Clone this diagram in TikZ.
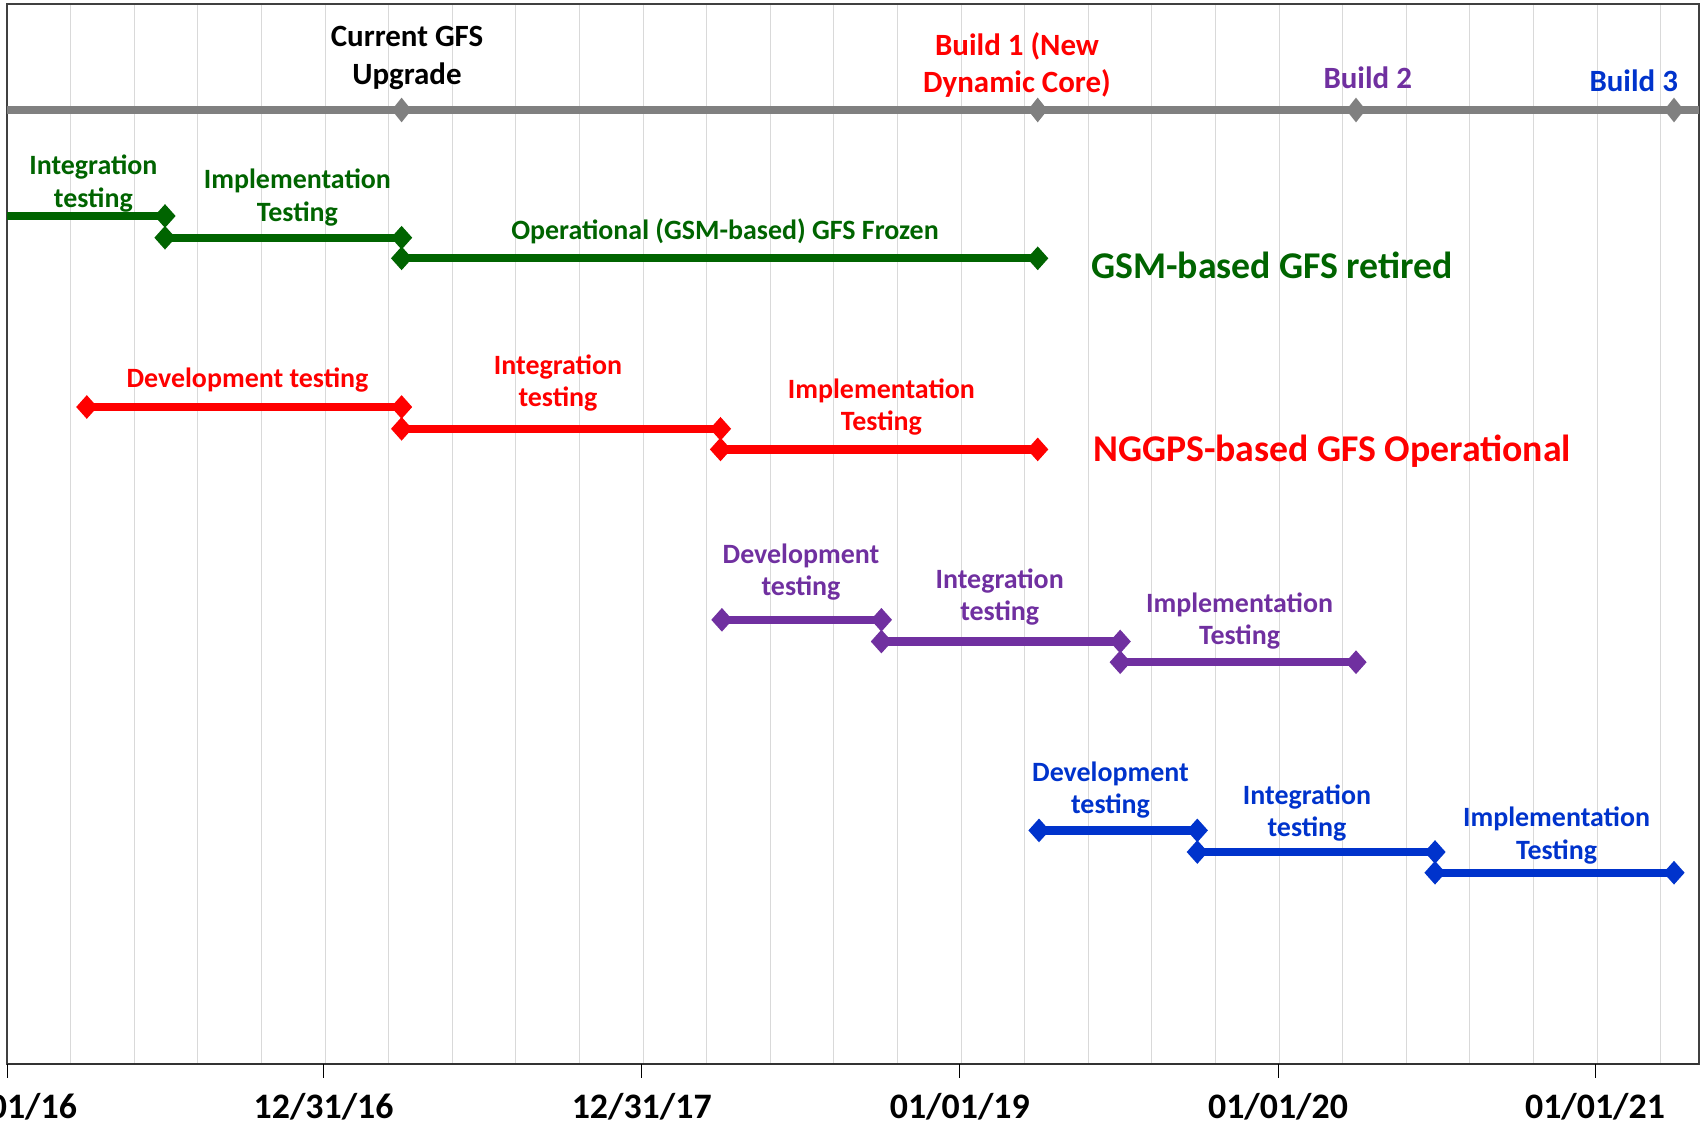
\documentclass[tikz,border=0pt]{standalone}
\usepackage{fontspec}
\setmainfont{Carlito}
\definecolor{opsGreen}{RGB}{0,100,0}
\definecolor{buildRed}{RGB}{255,0,0}
\definecolor{buildPurple}{RGB}{112,48,160}
\definecolor{buildBlue}{RGB}{0,51,204}
\definecolor{axisGray}{RGB}{128,128,128}
\definecolor{gridGray}{RGB}{217,217,217}
\usetikzlibrary{shapes.geometric}

\begin{document}
\begin{tikzpicture}[x=0.2mm,y=-0.2mm,
  bar/.style={line width=1.65mm,draw=#1},
  mstone/.style={diamond,fill=#1,inner sep=0pt,minimum width=4.3mm,minimum height=4.8mm},
  lbl/.style={text=#1,font=\fontsize{15.9}{18.5}\selectfont\bfseries,align=center},
  biglbl/.style={text=#1,font=\fontsize{21.5}{25}\selectfont\bfseries,anchor=west},
  toplbl/.style={text=#1,font=\fontsize{17.6}{21.5}\selectfont\bfseries,align=center},
  datelbl/.style={font=\fontsize{20.4}{24}\selectfont\bfseries,inner sep=0pt}]
\useasboundingbox (0,0) rectangle (1702,1125);

% Grid and frame
\foreach \k in {1,...,26}
  \draw[gridGray,line width=0.2mm] ({7+63.6*\k},4) -- ({7+63.6*\k},1064);
\draw[black!75,line width=0.3mm] (7,4) rectangle (1699,1064);
\draw[black!80,line width=0.5mm] (7,1064) -- (1699,1064);

% Date axis
\draw[thin] (7,1064) -- (7,1078);
\draw[thin] (323.6,1064) -- (323.6,1078);
\draw[thin] (641.7,1064) -- (641.7,1078);
\draw[thin] (959.8,1064) -- (959.8,1078);
\draw[thin] (1278,1064) -- (1278,1078);
\draw[thin] (1595,1064) -- (1595,1078);
\node[datelbl] (d0) at (7,1107) {01/01/16};
\node[datelbl] (d1) at (323.6,1107) {12/31/16};
\node[datelbl] (d2) at (641.7,1107) {12/31/17};
\node[datelbl] (d3) at (959.8,1107) {01/01/19};
\node[datelbl] (d4) at (1278,1107) {01/01/20};
\node[datelbl] (d5) at (1595,1107) {01/01/21};

% Milestone line
\coordinate (tl0) at (7,110);
\coordinate (tl1) at (1699,110);
\draw[axisGray,line width=1.6mm] (tl0) -- (tl1);
\node[mstone=axisGray,minimum width=4mm,minimum height=5mm] (ms0) at (401.6,110) {};
\node[mstone=axisGray,minimum width=4mm,minimum height=5mm] (ms1) at (1037.7,110) {};
\node[mstone=axisGray,minimum width=4mm,minimum height=5mm] (ms2) at (1356,110) {};
\node[mstone=axisGray,minimum width=4mm,minimum height=5mm] (ms3) at (1674,110) {};
\node[toplbl=black] (cur) at (407,58) {Current GFS\\Upgrade};
\node[toplbl=buildRed] (b1) at (1017,65) {Build 1 (New\\Dynamic Core)};
\node[toplbl=buildPurple] (b2) at (1367.7,78) {Build 2};
\node[toplbl=buildBlue] (b3) at (1633.7,81) {Build 3};

% GSM-based GFS
\coordinate (gr0) at (7,216);
\node[mstone=opsGreen] (gr1) at (165,216) {};
\node[mstone=opsGreen] (gr2) at (165,237.7) {};
\node[mstone=opsGreen] (gr3) at (401.6,237.7) {};
\node[mstone=opsGreen] (gr4) at (401.6,258.3) {};
\node[mstone=opsGreen] (gr5) at (1037.7,258.3) {};
\draw[bar=opsGreen] (gr0) -- (gr1.center);
\draw[bar=opsGreen] (gr2.center) -- (gr3.center);
\draw[bar=opsGreen] (gr4.center) -- (gr5.center);
\node[lbl=opsGreen] (gt1) at (93.4,183.3) {Integration\\testing};
\node[lbl=opsGreen] (gt2) at (297.4,197.4) {Implementation\\Testing};
\node[lbl=opsGreen] (gt3) at (725,231.5) {Operational (GSM-based) GFS Frozen};
\node[biglbl=opsGreen] (gt4) at (1085,265) {GSM-based GFS retired};

% Build 1
\node[mstone=buildRed] (rd1) at (86.8,407) {};
\node[mstone=buildRed] (rd2) at (401.6,407) {};
\node[mstone=buildRed] (rd3) at (401.6,428.8) {};
\node[mstone=buildRed] (rd4) at (720.5,428.8) {};
\node[mstone=buildRed] (rd5) at (720.5,449.4) {};
\node[mstone=buildRed] (rd6) at (1037.7,449.4) {};
\draw[bar=buildRed] (rd1.center) -- (rd2.center);
\draw[bar=buildRed] (rd3.center) -- (rd4.center);
\draw[bar=buildRed] (rd5.center) -- (rd6.center);
\node[lbl=buildRed] (rt1) at (247.5,380.5) {Development testing};
\node[lbl=buildRed] (rt2) at (558,383) {Integration\\testing};
\node[lbl=buildRed] (rt3) at (881.4,407) {Implementation\\Testing};
\node[biglbl=buildRed] (rt4) at (1087,451.5) {NGGPS-based GFS Operational};

% Build 2
\node[mstone=buildPurple] (pu1) at (721.9,619.8) {};
\node[mstone=buildPurple] (pu2) at (881.4,619.8) {};
\node[mstone=buildPurple] (pu3) at (881.4,641.5) {};
\node[mstone=buildPurple] (pu4) at (1120.2,641.5) {};
\node[mstone=buildPurple] (pu5) at (1120.2,662.2) {};
\node[mstone=buildPurple] (pu6) at (1356,662.2) {};
\draw[bar=buildPurple] (pu1.center) -- (pu2.center);
\draw[bar=buildPurple] (pu3.center) -- (pu4.center);
\draw[bar=buildPurple] (pu5.center) -- (pu6.center);
\node[lbl=buildPurple] (pt1) at (801,572) {Development\\testing};
\node[lbl=buildPurple] (pt2) at (999.7,596.8) {Integration\\testing};
\node[lbl=buildPurple] (pt3) at (1239.6,620.8) {Implementation\\Testing};

% Build 3
\node[mstone=buildBlue] (bl1) at (1039,830.4) {};
\node[mstone=buildBlue] (bl2) at (1197.3,830.4) {};
\node[mstone=buildBlue] (bl3) at (1197.3,852) {};
\node[mstone=buildBlue] (bl4) at (1435,852) {};
\node[mstone=buildBlue] (bl5) at (1435,872.7) {};
\node[mstone=buildBlue] (bl6) at (1674,872.7) {};
\draw[bar=buildBlue] (bl1.center) -- (bl2.center);
\draw[bar=buildBlue] (bl3.center) -- (bl4.center);
\draw[bar=buildBlue] (bl5.center) -- (bl6.center);
\node[lbl=buildBlue] (bt1) at (1110.5,790) {Development\\testing};
\node[lbl=buildBlue] (bt2) at (1307,812.8) {Integration\\testing};
\node[lbl=buildBlue] (bt3) at (1556.6,835.7) {Implementation\\Testing};
\end{tikzpicture}
\end{document}
